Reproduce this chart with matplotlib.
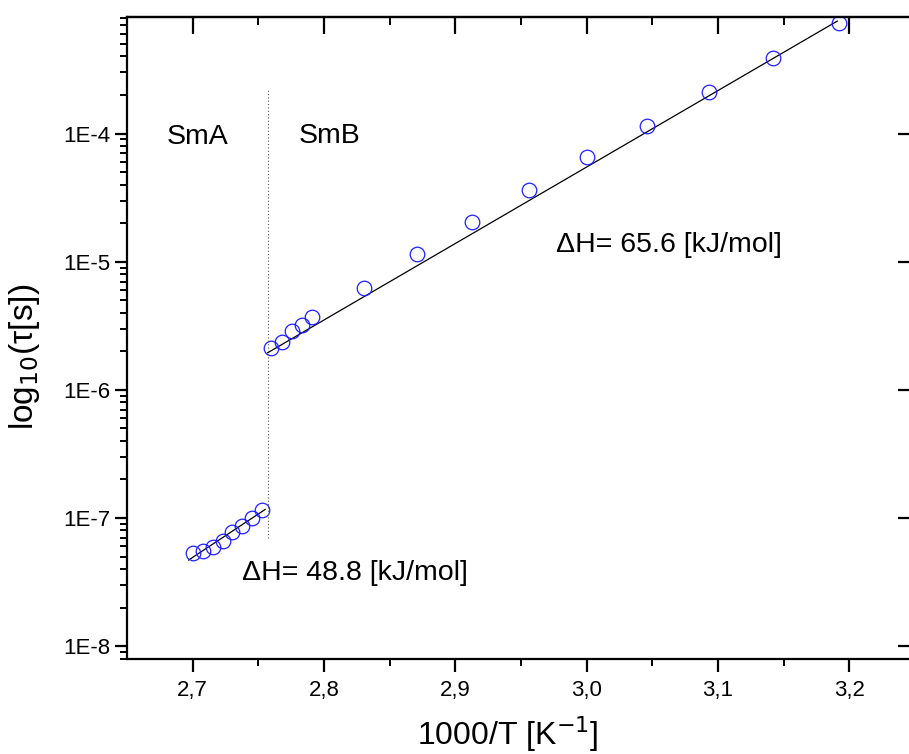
import matplotlib
matplotlib.use("Agg")
import matplotlib.pyplot as plt
import numpy as np
from matplotlib.ticker import FixedLocator, FuncFormatter, LogLocator, NullFormatter

plt.rcParams['font.family'] = ['Liberation Sans', 'DejaVu Sans']

# SmA phase (high temperature)
x_sma = [2.700, 2.708, 2.7155, 2.7228, 2.730, 2.7377, 2.745, 2.753]
tau_sma = [5.3e-8, 5.52e-8, 5.96e-8, 6.63e-8, 7.76e-8, 8.65e-8, 9.93e-8, 1.15e-7]

# SmB phase
x_smb = [2.7596, 2.768, 2.776, 2.7833, 2.7908, 2.8306, 2.8709, 2.9128,
         2.9562, 3.0003, 3.0462, 3.0931, 3.1419, 3.1921]
tau_smb = [2.13e-6, 2.37e-6, 2.87e-6, 3.20e-6, 3.71e-6, 6.29e-6, 1.15e-5, 2.04e-5,
           3.65e-5, 6.53e-5, 1.14e-4, 2.12e-4, 3.92e-4, 7.35e-4]

# fit lines (endpoints)
fit_sma_x = [2.6969, 2.7552]
fit_sma_y = [10**-7.328, 10**-6.933]
fit_smb_x = [2.757, 3.1908]
fit_smb_y = [10**-5.711, 10**-3.122]

# phase boundary
trans_x = 2.7573
trans_y = [6.93e-8, 2.24e-4]

xmajor = [2.7, 2.8, 2.9, 3.0, 3.1, 3.2]
xminor = [2.75, 2.85, 2.95, 3.05, 3.15]
ymajor = [1e-8, 1e-7, 1e-6, 1e-5, 1e-4]

fig = plt.figure(figsize=(9.09, 7.54), dpi=100)
ax = fig.add_axes([127/909, 95/754, (915-127)/909, (737-95)/754])

ax.plot(fit_sma_x, fit_sma_y, color='black', lw=0.9)
ax.plot(fit_smb_x, fit_smb_y, color='black', lw=0.9)
ax.plot(x_sma, tau_sma, 'o', ms=10.5, mfc='none', mec='#1f1fff', mew=0.9)
ax.plot(x_smb, tau_smb, 'o', ms=10.5, mfc='none', mec='#1f1fff', mew=0.9)
ax.plot([trans_x, trans_x], trans_y, color='#555555', lw=0.8, ls=(0, (1, 2)))

ax.set_yscale('log')
ax.set_xlim(2.65, 3.25)
ax.set_ylim(10**-8.1, 10**-3.09)

ax.xaxis.set_major_locator(FixedLocator(xmajor))
ax.xaxis.set_minor_locator(FixedLocator(xminor))
ax.xaxis.set_major_formatter(FuncFormatter(lambda v, p: ('%.1f' % v).replace('.', ',')))
ax.yaxis.set_major_locator(FixedLocator(ymajor))
ax.yaxis.set_minor_locator(LogLocator(base=10, subs=np.arange(2, 10)))
ax.yaxis.set_minor_formatter(NullFormatter())
ax.yaxis.set_major_formatter(FuncFormatter(lambda v, p: '1E%d' % round(np.log10(v))))

for s in ax.spines.values():
    s.set_linewidth(1.6)

ax.tick_params(which='major', axis='both', direction='out', length=9, width=1.6,
               labelsize=16, top=False, right=False)
ax.tick_params(which='minor', axis='both', direction='out', length=5, width=1.4,
               top=False, right=False)
ax.tick_params(axis='x', pad=6)
ax.tick_params(axis='y', pad=3)

# top and right ticks point inward
sec_x = ax.secondary_xaxis('top')
sec_x.xaxis.set_major_locator(FixedLocator(xmajor))
sec_x.xaxis.set_minor_locator(FixedLocator(xminor))
sec_x.tick_params(which='major', direction='in', length=12, width=1.6, labeltop=False)
sec_x.tick_params(which='minor', direction='in', length=6, width=1.4)
sec_x.spines['top'].set_linewidth(1.6)

sec_y = ax.secondary_yaxis('right')
sec_y.set_yscale('log')
sec_y.yaxis.set_major_locator(FixedLocator(ymajor))
sec_y.yaxis.set_minor_locator(FixedLocator([]))
sec_y.tick_params(which='major', direction='in', length=12, width=1.6, labelright=False)
sec_y.spines['right'].set_linewidth(1.6)

ax.text(2.7035, 10**-4.03, 'SmA', fontsize=20.5, ha='center', va='center')
ax.text(2.804, 10**-4.02, 'SmB', fontsize=20.5, ha='center', va='center')
ax.text(2.7374, 10**-7.43, 'ΔH= 48.8 [kJ/mol]', fontsize=20.5, ha='left', va='center')
ax.text(2.9767, 10**-4.871, 'ΔH= 65.6 [kJ/mol]', fontsize=20.5, ha='left', va='center')

ax.set_xlabel('1000/T [K$^{-1}$]', fontsize=23)
ax.xaxis.label.set_va('baseline')
ax.set_ylabel('log$_{10}$(τ[s])', fontsize=24)
ax.xaxis.set_label_coords((508-127)/788, (659-745)/642)
ax.yaxis.set_label_coords((42-127)/788, 0.47)

fig.savefig('out.png', dpi=100)
